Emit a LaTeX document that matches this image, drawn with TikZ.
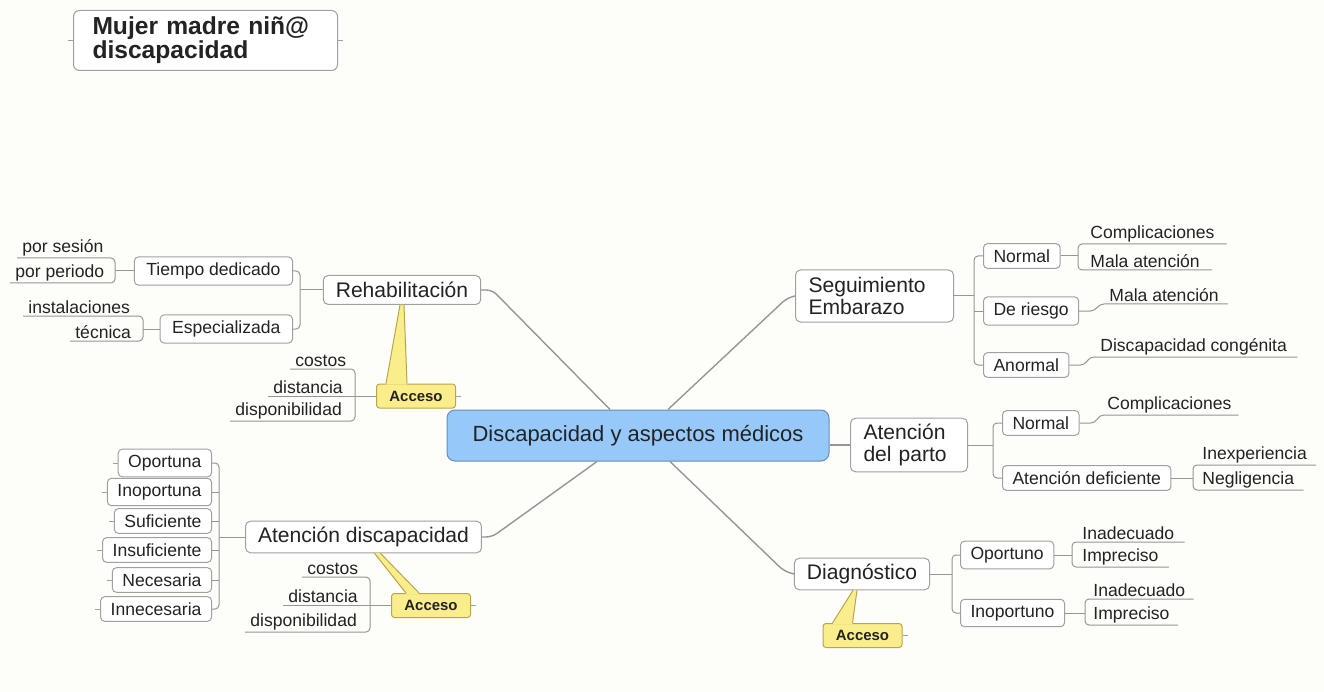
\documentclass[tikz,border=0pt]{standalone}
\usepackage{fontspec}
\setmainfont{Liberation Sans}
\usepackage{tikz}
\usetikzlibrary{calc,positioning,shapes}
\newlength{\px}
\setlength{\px}{0.02cm}
\definecolor{fondo}{RGB}{253,253,250}
\definecolor{linea}{RGB}{150,150,150}
\definecolor{borde}{RGB}{160,160,160}
\definecolor{azul}{RGB}{150,200,250}
\definecolor{azulborde}{RGB}{105,140,185}
\definecolor{amarillo}{RGB}{250,238,140}
\definecolor{amarilloborde}{RGB}{185,165,75}
\definecolor{texto}{RGB}{35,35,35}
\tikzset{
	every node/.style={text=texto},
	titulo/.style={
		rectangle,
		rounded corners=6\px,
		draw=borde, fill=white, line width=1\px,
		minimum width=264\px, minimum height=60\px,
		text width=226\px, inner xsep=19\px,
		align=left,
		font=\bfseries\fontsize{14}{13.5}\selectfont
	},
	central/.style={
		rectangle,
		rounded corners=8\px,
		draw=azulborde, fill=azul, line width=1\px,
		minimum width=382\px, minimum height=51\px,
		font=\fontsize{12.5}{15}\selectfont
	},
	tema/.style={
		rectangle,
		rounded corners=5\px,
		draw=borde, fill=white, line width=1\px,
		inner xsep=12.5\px, minimum height=29\px,
		font=\fontsize{12}{14}\selectfont
	},
	temados/.style={
		tema,
		inner xsep=13\px, minimum height=52\px,
		align=left,
		font=\fontsize{12}{12.5}\selectfont
	},
	subtema/.style={
		rectangle,
		rounded corners=4\px,
		draw=borde, fill=white, line width=1\px,
		inner xsep=10\px, minimum height=23\px,
		font=\fontsize{10}{12}\selectfont
	},
	hoja/.style={
		inner xsep=5\px, inner ysep=2\px,
		font=\fontsize{10}{12}\selectfont
	},
	acceso/.style={
		rectangle,
		rounded corners=3\px,
		draw=amarilloborde, fill=amarillo, line width=1\px,
		minimum width=79\px, minimum height=24\px,
		font=\bfseries\fontsize{8.5}{10}\selectfont
	},
	puntero/.style={draw=amarilloborde, line width=1\px},
	rama/.style={draw=linea, line width=1.4\px, rounded corners=6\px},
	raya/.style={draw=linea, line width=1\px, rounded corners=4\px},
	cabo/.style={draw=borde, line width=1\px},
}

\begin{document}
\begin{tikzpicture}[x=1\px,y=-1\px]
\fill[fondo] (0,0) rectangle (1324,692);

% titulo
\node[titulo, anchor=north west] (titulo) at (73,10) {Mujer madre niñ@\\discapacidad};
\draw[cabo] (titulo.west) -- ++(-5,0) (titulo.east) -- ++(5,0);

% centro y temas
\node[central] (centro) at (638,435.5) {Discapacidad y aspectos médicos};
\node[tema] (rehab) at (402,290) {Rehabilitación};
\node[tema] (atdisc) at (363.5,537) {Atención discapacidad};
\node[tema] (diagn) at (862,574) {Diagnóstico};
\node[temados, anchor=west, text width=132\px] (seguim) at (795,296) {Seguimiento\\Embarazo};
\node[temados, anchor=west, text width=91\px] (parto) at (850,445) {Atención\\del parto};

\draw[rama] (rehab.east) -- ++(11,0) -- ($(centro.north)+(-28,0)$);
\draw[rama] (seguim.west) -- ++(-8,2) -- ($(centro.north)+(30,0)$);
\draw[rama] (parto.west) -- (parto.west -| centro.east);
\draw[rama] (atdisc.east) -- ++(10,0) -- ($(centro.south)+(-41,0)$);
\draw[rama] (diagn.west) -- ++(-10,-3) -- ($(centro.south)+(32,0)$);

% rehabilitacion
\node[subtema, inner xsep=12\px, anchor=east] (tiempo) at (293,271) {Tiempo dedicado};
\node[subtema, inner xsep=12\px, anchor=east] (especial) at (293,329) {Especializada};
\coordinate (bR) at (300,290);
\draw[raya] (rehab.west) -- (bR);
\draw[raya] (tiempo.east) -- (tiempo.east -| bR) -- (especial.east -| bR) -- (especial.east);

\node[hoja, anchor=south west] (sesion) at (17,258) {por sesión};
\node[hoja, anchor=south west] (periodo) at (10,283) {por periodo};
\coordinate (bT) at (115,271);
\draw[raya] (bT) -- (tiempo.west);
\draw[raya] (sesion.south west) -- (sesion.south west -| bT) -- (periodo.south west -| bT) -- (periodo.south west);

\node[hoja, anchor=south west] (instal) at (23,316) {instalaciones};
\node[hoja, anchor=south west] (tecnica) at (70,341) {técnica};
\coordinate (bE) at (143,329);
\draw[raya] (bE) -- (especial.west);
\draw[raya] (instal.south west) -- (instal.south west -| bE) -- (tecnica.south west -| bE) -- (tecnica.south west);

\node[acceso] (accR) at (416,396) {Acceso};
\draw[cabo] (accR.east) -- ++(5,0);
\fill[amarillo] ($(rehab.south)+(-2,0)$) -- ($(accR.north west)+(10,1)$) -- ($(accR.north west)+(31,1)$) -- ($(rehab.south)+(2,0)$) -- cycle;
\draw[puntero] ($(rehab.south)+(-2,0)$) -- ($(accR.north west)+(10,0)$)
	($(rehab.south)+(2,0)$) -- ($(accR.north west)+(31,0)$);
\node[hoja, anchor=south west] (costosR) at (290,369) {costos};
\node[hoja, anchor=south west] (distR) at (268,396) {distancia};
\node[hoja, anchor=south west] (dispR) at (230,421) {disponibilidad};
\coordinate (bAR) at (355,396);
\draw[raya] (costosR.south west) -- (costosR.south west -| bAR) -- (dispR.south west -| bAR) -- (dispR.south west);
\draw[raya] (distR.south west) -- (accR.west);

% atencion discapacidad
\foreach \n/\y/\t in {opna/463/Oportuna, inopna/492/Inoportuna, sufi/521/Suficiente,
	insufi/550/Insuficiente, nece/580/Necesaria, innece/609/Innecesaria}
	\node[subtema, anchor=east] (\n) at (212,\y) {\t};
\coordinate (bA) at (219,537);
\draw[raya] (atdisc.west) -- (bA);
\draw[raya] (opna.east) -- (opna.east -| bA) -- (innece.east -| bA) -- (innece.east);
\foreach \n in {inopna,sufi,insufi,nece}
	\draw[raya] (\n.east) -- (\n.east -| bA);
\foreach \n in {opna,inopna,sufi,insufi,nece,innece}
	\draw[cabo] (\n.west) -- ++(-5,0);

\node[acceso] (accA) at (431,605.5) {Acceso};
\draw[cabo] (accA.east) -- ++(5,0);
\fill[amarillo] ($(atdisc.south)+(11,0)$) -- ($(accA.north west)+(15,1)$) -- ($(accA.north west)+(28,1)$) -- ($(atdisc.south)+(17,0)$) -- cycle;
\draw[puntero] ($(atdisc.south)+(11,0)$) -- ($(accA.north west)+(15,0)$)
	($(atdisc.south)+(17,0)$) -- ($(accA.north west)+(28,0)$);
\node[hoja, anchor=south west] (costosA) at (302,577) {costos};
\node[hoja, anchor=south west] (distA) at (283,605.5) {distancia};
\node[hoja, anchor=south west] (dispA) at (245,632) {disponibilidad};
\coordinate (bAA) at (370,605.5);
\draw[raya] (costosA.south west) -- (costosA.south west -| bAA) -- (dispA.south west -| bAA) -- (dispA.south west);
\draw[raya] (distA.south west) -- (accA.west);

% seguimiento embarazo
\node[subtema, anchor=west] (normS) at (983,256) {Normal};
\node[subtema, anchor=west] (riesgo) at (983,311) {De riesgo};
\node[subtema, anchor=west] (anormal) at (983,365) {Anormal};
\coordinate (bS) at (974,296);
\draw[raya] (seguim.east) -- (bS);
\draw[raya] (normS.west) -- (normS.west -| bS) -- (anormal.west -| bS) -- (anormal.west);
\draw[raya] (riesgo.west) -- (riesgo.west -| bS);

\node[hoja, inner xsep=12\px, anchor=south west] (compS) at (1078,244) {Complicaciones};
\node[hoja, inner xsep=12\px, anchor=south west] (malaS) at (1078,270) {Mala atención};
\coordinate (bN) at (1078,256);
\draw[raya] (normS.east) -- (bN);
\draw[raya] (compS.south east) -- (compS.south west) -- (malaS.south west) -- (malaS.south east);

\node[hoja, inner xsep=9\px, anchor=south west] (malaR) at (1100,304) {Mala atención};
\draw[raya] (riesgo.east) -- ++(15,0) -- (malaR.south west) -- (malaR.south east);
\node[hoja, inner xsep=10\px, anchor=south west] (congen) at (1090,357) {Discapacidad congénita};
\draw[raya] (anormal.east) -- ++(15,0) -- (congen.south west) -- (congen.south east);

% atencion del parto
\node[subtema, anchor=west] (normP) at (1002,423) {Normal};
\node[subtema, anchor=west] (defic) at (1002,478) {Atención deficiente};
\coordinate (bP) at (993,445);
\draw[raya] (parto.east) -- (bP);
\draw[raya] (normP.west) -- (normP.west -| bP) -- (defic.west -| bP) -- (defic.west);

\node[hoja, inner xsep=7\px, anchor=south west] (compP) at (1100,415) {Complicaciones};
\draw[raya] (normP.east) -- ++(15,0) -- (compP.south west) -- (compP.south east);
\node[hoja, inner xsep=9\px, anchor=south west] (inexp) at (1193,465) {Inexperiencia};
\node[hoja, inner xsep=9\px, anchor=south west] (neglig) at (1193,490) {Negligencia};
\coordinate (bD) at (1193,478);
\draw[raya] (defic.east) -- (bD);
\draw[raya] (inexp.south east) -- (inexp.south west) -- (neglig.south west) -- (neglig.south east);

% diagnostico
\node[subtema, anchor=west] (oport) at (960,555) {Oportuno};
\node[subtema, anchor=west] (inoport) at (960,613) {Inoportuno};
\coordinate (bG) at (952,574);
\draw[raya] (diagn.east) -- (bG);
\draw[raya] (oport.west) -- (oport.west -| bG) -- (inoport.west -| bG) -- (inoport.west);

\node[hoja, inner xsep=10\px, anchor=south west] (inadO) at (1072,542) {Inadecuado};
\node[hoja, inner xsep=10\px, anchor=south west] (impO) at (1072,567) {Impreciso};
\coordinate (bO) at (1072,555);
\draw[raya] (oport.east) -- (bO);
\draw[raya] (inadO.south east) -- (inadO.south west) -- (impO.south west) -- (impO.south east);

\node[hoja, inner xsep=8\px, anchor=south west] (inadI) at (1085,599) {Inadecuado};
\node[hoja, inner xsep=8\px, anchor=south west] (impI) at (1085,625) {Impreciso};
\coordinate (bI) at (1085,613);
\draw[raya] (inoport.east) -- (bI);
\draw[raya] (inadI.south east) -- (inadI.south west) -- (impI.south west) -- (impI.south east);

\node[acceso] (accD) at (862.5,635.5) {Acceso};
\draw[cabo] (accD.east) -- ++(5,0);
\fill[amarillo] ($(diagn.south)+(-9,0)$) -- ($(accD.north west)+(10,1)$) -- ($(accD.north west)+(30,1)$) -- ($(diagn.south)+(-5,0)$) -- cycle;
\draw[puntero] ($(diagn.south)+(-9,0)$) -- ($(accD.north west)+(10,0)$)
	($(diagn.south)+(-5,0)$) -- ($(accD.north west)+(30,0)$);
\end{tikzpicture}
\end{document}
